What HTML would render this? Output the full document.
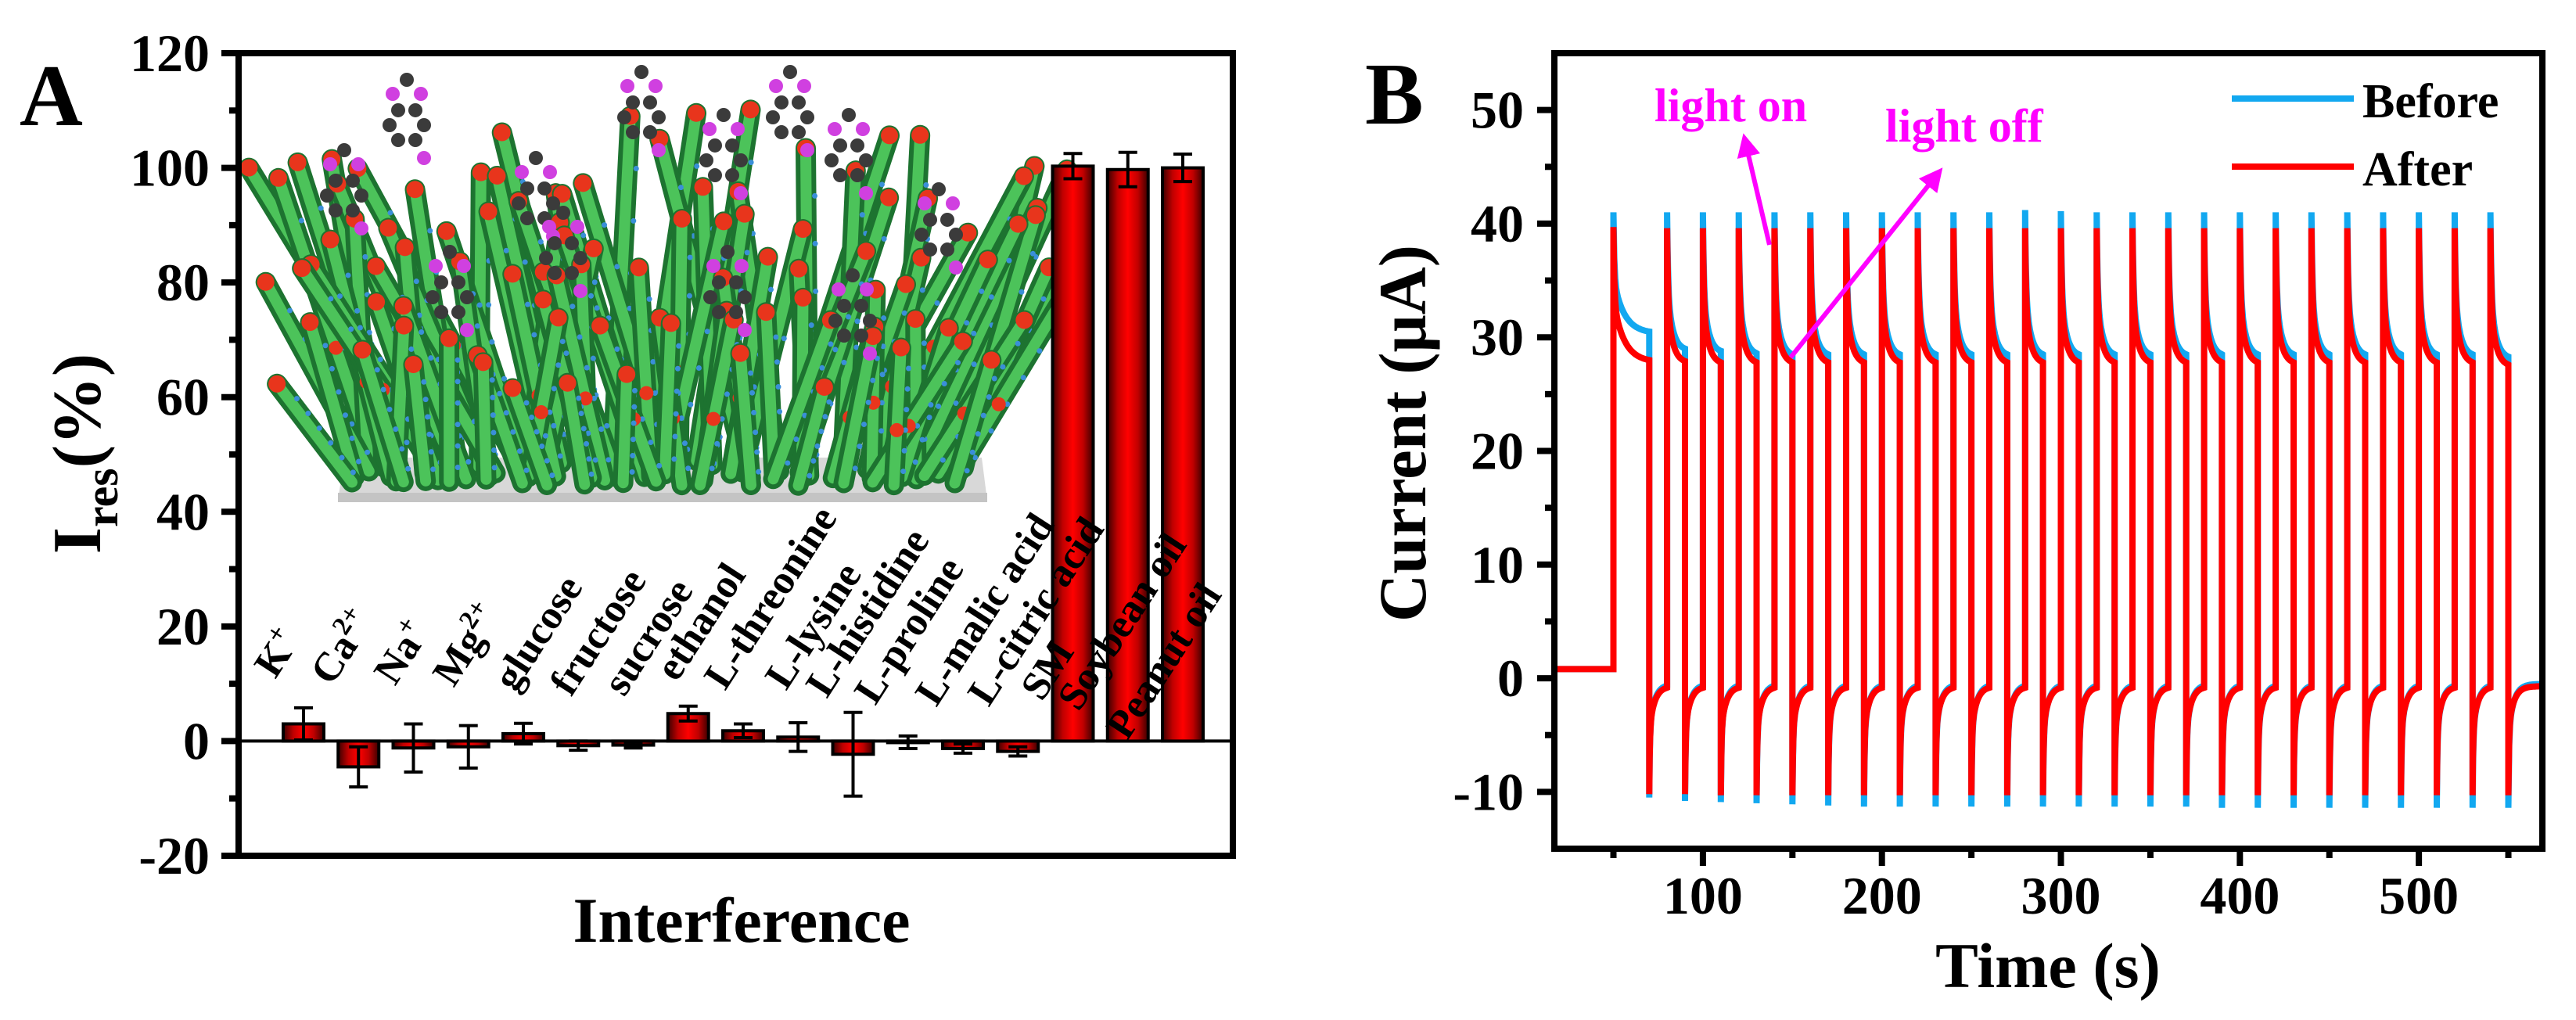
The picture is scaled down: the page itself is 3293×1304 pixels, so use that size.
<!DOCTYPE html>
<html><head><meta charset="utf-8">
<style>
html,body{margin:0;padding:0;background:#fff;}
svg{display:block;}
text{font-family:"Liberation Serif",serif;font-weight:bold;}
</style></head>
<body>
<svg id="fig" width="3293" height="1304" viewBox="0 0 3293 1304" xmlns="http://www.w3.org/2000/svg">
<defs>
<linearGradient id="barGrad" x1="0" y1="0" x2="1" y2="0">
<stop offset="0" stop-color="#3a0000"/><stop offset="0.25" stop-color="#c00000"/><stop offset="0.5" stop-color="#ff0000"/><stop offset="0.75" stop-color="#c00000"/><stop offset="1" stop-color="#3a0000"/>
</linearGradient>
<marker id="arrowHead" viewBox="0 0 10 10" refX="5" refY="5" markerWidth="5" markerHeight="5" orient="auto"><path d="M0,0 L10,5 L0,10 z" fill="#ff00ff"/></marker>
</defs>
<g id="panelA"></g>
<g id="panelB"></g>
</svg>
<script>
// ---------- Panel A data ----------
const categories = ["K+","Ca2+","Na+","Mg2+","glucose","fructose","sucrose","ethanol","L-threonine","L-lysine","L-histidine","L-proline","L-malic acid","L-citric acid","SM","Soybean oil","Peanut oil"];
const resValues = [3.0,-4.5,-1.2,-1.0,1.3,-0.8,-0.7,4.8,1.8,0.7,-2.3,-0.2,-1.3,-1.8,100.3,99.7,100.0];
const resErrors = [2.8,3.5,4.2,3.7,1.8,0.8,0.5,1.3,1.2,2.5,7.3,1.1,0.8,0.8,2.2,3.0,2.4];
const yTicksA = [-20,0,20,40,60,80,100,120];

// ---------- Panel B data (per light cycle) ----------
const onTimes  = [50,80,100,120,140,160,180,200,220,240,260,280,300,320,340,360,380,400,420,440,460,480,500,520,540];
const offTimes = [70,90,110,130,150,170,190,210,230,250,270,290,310,330,350,370,390,410,430,450,470,490,510,530,550];
const peakBefore    = [41.0,41.0,41.0,41.0,41.0,41.0,41.0,41.0,41.0,41.0,41.0,41.2,41.1,41.0,41.0,41.0,41.0,41.0,41.0,41.0,41.0,41.0,41.0,41.0,41.0];
const plateauBefore = [30.5,29.0,28.8,28.6,28.5,28.5,28.5,28.5,28.5,28.5,28.5,28.5,28.5,28.5,28.5,28.5,28.5,28.5,28.5,28.5,28.5,28.5,28.5,28.5,28.3];
const troughBefore  = [-10.5,-10.8,-10.9,-11.0,-11.1,-11.2,-11.3,-11.3,-11.3,-11.3,-11.3,-11.3,-11.3,-11.3,-11.3,-11.3,-11.4,-11.4,-11.4,-11.4,-11.4,-11.4,-11.4,-11.4,-11.4];
const peakAfter     = [39.7,39.6,39.6,39.6,39.6,39.6,39.6,39.6,39.6,39.6,39.6,39.6,39.6,39.6,39.6,39.6,39.6,39.6,39.6,39.6,39.6,39.6,39.6,39.6,39.6];
const plateauAfter  = [28.0,27.9,27.8,27.8,27.8,27.8,27.8,27.8,27.8,27.8,27.8,27.8,27.8,27.8,27.8,27.8,27.8,27.8,27.8,27.8,27.8,27.8,27.8,27.8,27.6];
const troughAfter   = [-10.2,-10.2,-10.3,-10.3,-10.3,-10.3,-10.3,-10.3,-10.3,-10.3,-10.3,-10.3,-10.3,-10.3,-10.3,-10.3,-10.3,-10.3,-10.3,-10.3,-10.3,-10.3,-10.3,-10.3,-10.3];
const darkBaseline = [0.8, 0.8];
const recoveryLevel = [-0.5, -0.7];
const xTicksB = [100,200,300,400,500];
const yTicksB = [-10,0,10,20,30,40,50];

const NS = "http://www.w3.org/2000/svg";
function mk(tag, attrs, parent){const e=document.createElementNS(NS,tag);for(const k in attrs)e.setAttribute(k,attrs[k]);if(parent)parent.appendChild(e);return e;}

// =============== PANEL A ===============
const A = document.getElementById('panelA');
const aL=305,aR=1576,aT=68,aB=1094;
const yA = v => aT + (120 - v) * (aB - aT) / 140;
const xA = i => 388 + i * 70.25;
const barW = 52;

// inset illustration (decorative)
(function(){
  const g = mk('g',{},A);
  
  
  mk('polygon',{points:"440,585 1255,585 1262,640 432,640",fill:"#d8d8d8"},g);
  mk('polygon',{points:"432,630 1262,630 1262,642 432,642",fill:"#c4c4c4"},g);
  let s=11; const rnd=()=>{s=(s*16807)%2147483647;return s/2147483647;};
  const rods=[];
  for(let r=0;r<5;r++){
    for(let k=0;k<20;k++){
      const bx=450+k*40+rnd()*30;
      const by=612-r*6+rnd()*10;
      const len=130+r*60+rnd()*90;
      const edge=(bx-850)/420;
      const ang=(rnd()-0.5)*0.7+edge*0.35;
      rods.push([bx,by,bx+Math.sin(ang)*len,by-Math.cos(ang)*len]);
    }
  }
  rods.sort((a,b)=>a[3]-b[3]);
  rods.forEach(rd=>{
    mk('line',{x1:rd[0],y1:rd[1],x2:rd[2],y2:rd[3],stroke:"#1d7330","stroke-width":26,"stroke-linecap":"round"},g);
    mk('line',{x1:rd[0],y1:rd[1],x2:rd[2],y2:rd[3],stroke:"#4cc35a","stroke-width":14,"stroke-linecap":"round"},g);
    for(let t=0.1;t<0.95;t+=0.15){
      mk('circle',{cx:rd[0]+(rd[2]-rd[0])*t+11,cy:rd[1]+(rd[3]-rd[1])*t,r:3.5,fill:"#3a8fd8"},g);
    }
    mk('circle',{cx:rd[2],cy:rd[3],r:11,fill:"#e8351c"},g);
    if(rnd()>0.55) mk('circle',{cx:rd[0]+(rd[2]-rd[0])*0.4,cy:rd[1]+(rd[3]-rd[1])*0.4,r:9,fill:"#e8351c"},g);
  });
  const mols=[[440,250],[520,160],[685,260],[820,150],[925,205],[1010,150],[1085,205],[1200,300],[575,380],[720,330],[930,380],[1090,410]];
  mols.forEach(m=>{
    const cx=m[0],cy=m[1];
    for(let j=0;j<6;j++){
      const a=j*Math.PI/3;
      mk('circle',{cx:cx+Math.cos(a)*22,cy:cy+Math.sin(a)*22,r:9,fill:"#3b3b3b"},g);
    }
    mk('circle',{cx:cx-18,cy:cy-40,r:9,fill:"#d040e0"},g);
    mk('circle',{cx:cx+18,cy:cy-40,r:9,fill:"#d040e0"},g);
    mk('circle',{cx:cx,cy:cy-58,r:9,fill:"#3b3b3b"},g);
    mk('circle',{cx:cx+22,cy:cy+42,r:9,fill:"#d040e0"},g);
  });
})();

// zero line
const zl = mk('line',{x1:aL,x2:aR,y1:yA(0),y2:yA(0),stroke:"#000","stroke-width":4},A);



// bars
categories.forEach((c,i)=>{
  const v=resValues[i], e=resErrors[i];
  const y0=yA(0), y1=yA(v);
  const r = mk('rect',{x:xA(i)-barW/2,y:Math.min(y0,y1),width:barW,height:Math.max(2,Math.abs(y1-y0)),fill:"url(#barGrad)",stroke:"#000","stroke-width":4},A);
  
  
  const eg = mk('g',{stroke:"#000","stroke-width":4},A);
  
  
  const yt=yA(v+e), yb=yA(v-e);
  mk('line',{x1:xA(i),x2:xA(i),y1:yt,y2:yb},eg);
  mk('line',{x1:xA(i)-12,x2:xA(i)+12,y1:yt,y2:yt},eg);
  mk('line',{x1:xA(i)-12,x2:xA(i)+12,y1:yb,y2:yb},eg);
});

// category labels (rotated)
const labelX=[352,424,505,580,658,730,798,865,927,1005,1057,1119,1197,1264,1332,1379,1441];
const labelY=[869,878,878,880,886,892,892,873,884,884,894,903,905,905,898,911,948];
categories.forEach((c,i)=>{
  const t = mk('text',{transform:`translate(${labelX[i]},${labelY[i]}) rotate(-57)`,"font-size":52,fill:"#000"},A);
  
  
  const m = c.match(/^([A-Za-z]+)(\d?[+])$/);
  if(m){
    const a=document.createElementNS(NS,'tspan');a.textContent=m[1];t.appendChild(a);
    const b=document.createElementNS(NS,'tspan');b.setAttribute('dy','-20');b.setAttribute('font-size','34');b.textContent=m[2];t.appendChild(b);
  } else t.textContent=c;
});

// frame & axes A
const fA = mk('rect',{x:aL,y:aT,width:aR-aL,height:aB-aT,fill:"none",stroke:"#000","stroke-width":8},A);


yTicksA.forEach(v=>{
  const y=yA(v);
  mk('line',{x1:aL-22,x2:aL,y1:y,y2:y,stroke:"#000","stroke-width":8},A);
  const t=mk('text',{x:268,y:y+23,"text-anchor":"end","font-size":68},A);
  
  
  t.textContent=v;
  if(v<120){const ym=yA(v+10);mk('line',{x1:aL-12,x2:aL,y1:ym,y2:ym,stroke:"#000","stroke-width":8},A);}
});
const tA=mk('text',{x:25,y:160,"font-size":112},A);


tA.textContent="A";
const xtA=mk('text',{x:948,y:1204,"text-anchor":"middle","font-size":82},A);


xtA.textContent="Interference";
const ytA=mk('text',{transform:"translate(128,580) rotate(-90)","text-anchor":"middle","font-size":88},A);


(function(){
  const a=document.createElementNS(NS,'tspan');a.textContent="I";ytA.appendChild(a);
  const b=document.createElementNS(NS,'tspan');b.setAttribute('dy','22');b.setAttribute('font-size','60');b.textContent="res";ytA.appendChild(b);
  const c=document.createElementNS(NS,'tspan');c.setAttribute('dy','-22');c.textContent="(%)";ytA.appendChild(c);
})();

// =============== PANEL B ===============
const B = document.getElementById('panelB');
const bL=1987,bR=3250,bT=68,bB=1085;
const xMin=17,xMax=569,yMin=-15,yMax=55;
const xB = t => bL + (t-xMin)*(bR-bL)/(xMax-xMin);
const yB = v => bT + (yMax-v)*(bB-bT)/(yMax-yMin);

function buildSeries(peaks,plats,troughs,base,rec){
  const pts=[[xMin,base],[onTimes[0],base]];
  for(let i=0;i<onTimes.length;i++){
    const on=onTimes[i],off=offTimes[i];
    const nxt = i+1<onTimes.length ? onTimes[i+1] : xMax;
    const dur=off-on;
    for(let k=0;k<=40;k++){
      const dt=dur*k/40;
      const w=0.55*Math.exp(-dt/0.5)+0.45*Math.exp(-dt/(dur*0.3));
      const w1=0.55*Math.exp(-dur/0.5)+0.45*Math.exp(-dur/(dur*0.3));
      const f=(w-w1)/(1-w1);
      pts.push([on+dt, plats[i]+(peaks[i]-plats[i])*f]);
    }
    const d2=nxt-off;
    for(let k=0;k<=40;k++){
      const dt=d2*k/40;
      const w=0.6*Math.exp(-dt/0.35)+0.4*Math.exp(-dt/3);
      pts.push([off+dt, rec+(troughs[i]-rec)*w]);
    }
  }
  return pts;
}
function drawLine(pts,color,name){
  const d=pts.map((p,i)=>(i?'L':'M')+xB(p[0]).toFixed(1)+','+yB(p[1]).toFixed(1)).join(' ');
  const p=mk('path',{d:d,fill:"none",stroke:color,"stroke-width":8,"stroke-linejoin":"miter"},B);
  
  
}
drawLine(buildSeries(peakBefore,plateauBefore,troughBefore,darkBaseline[0],recoveryLevel[0]),"#12a8f0","series-before");
drawLine(buildSeries(peakAfter,plateauAfter,troughAfter,darkBaseline[1],recoveryLevel[1]),"#ff0000","series-after");

// frame & ticks B
const fB=mk('rect',{x:bL,y:bT,width:bR-bL,height:bB-bT,fill:"none",stroke:"#000","stroke-width":8},B);


yTicksB.forEach(v=>{
  const y=yB(v);
  mk('line',{x1:bL-22,x2:bL,y1:y,y2:y,stroke:"#000","stroke-width":8},B);
  const t=mk('text',{x:1948,y:y+23,"text-anchor":"end","font-size":68},B);
  
  
  t.textContent=v;
});
[-5,5,15,25,35,45].forEach(v=>{const y=yB(v);mk('line',{x1:bL-12,x2:bL,y1:y,y2:y,stroke:"#000","stroke-width":8},B);});
xTicksB.forEach(v=>{
  const x=xB(v);
  mk('line',{x1:x,x2:x,y1:bB,y2:bB+22,stroke:"#000","stroke-width":8},B);
  const t=mk('text',{x:x,y:1168,"text-anchor":"middle","font-size":68},B);
  
  
  t.textContent=v;
});
[50,150,250,350,450,550].forEach(v=>{const x=xB(v);mk('line',{x1:x,x2:x,y1:bB,y2:bB+12,stroke:"#000","stroke-width":8},B);});

const tB=mk('text',{x:1745,y:158,"font-size":112},B);


tB.textContent="B";
const xtB=mk('text',{x:2618,y:1262,"text-anchor":"middle","font-size":82},B);


xtB.textContent="Time (s)";
const ytB=mk('text',{transform:"translate(1822,554) rotate(-90)","text-anchor":"middle","font-size":86,textLength:482,lengthAdjust:"spacingAndGlyphs"},B);


ytB.textContent="Current (μA)";

// legend
const lg=mk('g',{},B);


const le1=mk('g',{},lg);


mk('line',{x1:2853,x2:3009,y1:126,y2:126,stroke:"#12a8f0","stroke-width":8},le1);
const lt1=mk('text',{x:3020,y:150,"font-size":62},le1);lt1.textContent="Before";
const le2=mk('g',{},lg);


mk('line',{x1:2853,x2:3009,y1:213,y2:213,stroke:"#ff0000","stroke-width":8},le2);
const lt2=mk('text',{x:3020,y:237,"font-size":62},le2);lt2.textContent="After";

// annotations
const a1=mk('text',{x:2115,y:155,"font-size":60,fill:"#ff00ff"},B);


a1.textContent="light on";
const a2=mk('text',{x:2410,y:181,"font-size":60,fill:"#ff00ff"},B);


a2.textContent="light off";
const ar1=mk('line',{x1:2262,y1:313,x2:2232,y2:185,stroke:"#ff00ff","stroke-width":6,"marker-end":"url(#arrowHead)"},B);


const ar2=mk('line',{x1:2289,y1:457,x2:2474,y2:226,stroke:"#ff00ff","stroke-width":6,"marker-end":"url(#arrowHead)"},B);


</script>
</body></html>
